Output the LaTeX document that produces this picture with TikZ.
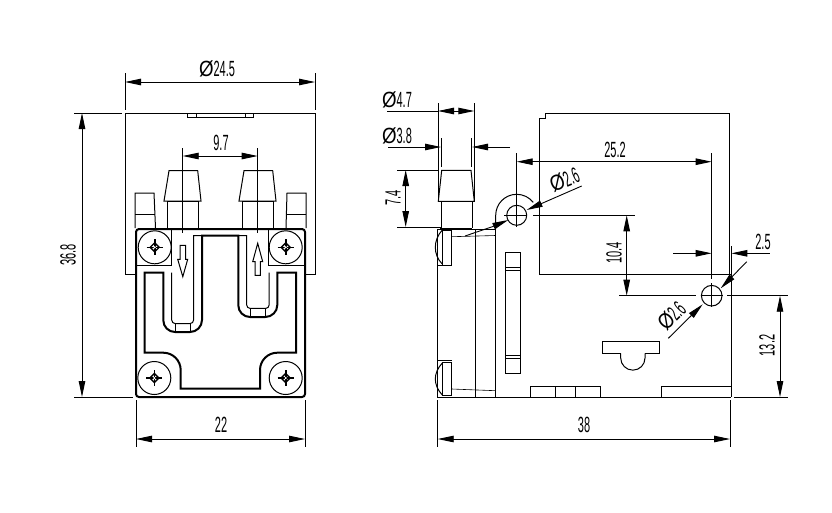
\documentclass[tikz,border=0pt]{standalone}
\usepackage{graphicx}
\usepackage{fontspec}
\setmainfont{Liberation Sans}
\usetikzlibrary{arrows.meta}
\newcommand{\dimtext}[1]{\scalebox{0.5}[1]{#1}}
\newcommand{\diatext}[1]{\scalebox{0.85}[1]{Ø}\scalebox{0.5}[1]{#1}}
\tikzset{
  part/.style={line width=1pt},
  heavy/.style={line width=2pt},
  dimtip/.style={{Triangle[length=16pt,width=6.5pt]}-{Triangle[length=16pt,width=6.5pt]}},
  dimend/.style={-{Triangle[length=16pt,width=6.5pt]}},
  extline/.style={line width=0.9pt},
  dimlabel/.style={inner sep=0pt,font=\fontsize{22}{22}\selectfont}
}
\begin{document}
\begin{tikzpicture}[x=1pt,y=1pt,yscale=-1]
  \useasboundingbox (0,0) rectangle (832,512);

  % Front view: housing behind the body
  \draw[part] (136,274) -- (125,274) -- (125,113) -- (315,113) -- (315,274) -- (305,274);
  \draw[part] (187,113) -- (187,117) -- (253,117) -- (253,113);
  \draw[part] (196,113) -- (196,117);
  \draw[part] (245,113) -- (245,117);

  % Barbs
  \foreach \bx in {0,75}{
    \draw[part] (\bx+167,228) -- (\bx+167,201) -- (\bx+198,201) -- (\bx+198,228);
    \draw[part] (\bx+164,201) -- (\bx+169,170.7) -- (\bx+197.7,170.7) -- (\bx+201,201) -- cycle;
  }

  % Side tabs
  \draw[part] (135,228) -- (135,193) -- (154,193) -- (155.5,228);
  \draw[part] (135,214) -- (155,214);
  \draw[part] (286,228) -- (287,193) -- (306,193) -- (306,228);
  \draw[part] (286,214) -- (306,214);

  % Body
  \draw[heavy,rounded corners=3pt] (136,229) rectangle (305,397);
  \draw[part] (171.7,229) -- (171.7,265) -- (136,265);
  \draw[part] (268.3,229) -- (268.3,265) -- (305,265);

  % Channel contour
  \draw[heavy] (163.3,272.7) -- (144.7,272.7) -- (144.7,352.7) -- (163.3,352.7)
    arc[start angle=-90,end angle=0,radius=17.4] -- (180.7,388.7) -- (260,388.7) -- (260,370)
    arc[start angle=180,end angle=270,radius=17.3] -- (296,352.7) -- (296,272.7) -- (277.3,272.7) -- (277.3,305)
    arc[start angle=0,end angle=90,radius=12] -- (250,317)
    arc[start angle=90,end angle=180,radius=11.7] -- (238.3,235.7) -- (202,235.7) -- (202,320)
    arc[start angle=0,end angle=90,radius=12] -- (175,332)
    arc[start angle=90,end angle=180,radius=11.7] -- cycle;
  \draw[part] (171.7,272.7) -- (171.7,320) arc[start angle=180,end angle=90,radius=3.6] -- (190,323.6)
    arc[start angle=90,end angle=0,radius=3.6] -- (193.6,235.7) -- (202,235.7);
  \draw[part] (238.3,235.7) -- (246.7,235.7) -- (246.7,305) arc[start angle=180,end angle=90,radius=3.4] -- (265.7,308.4)
    arc[start angle=90,end angle=0,radius=3.4] -- (269.1,272.7);
  \draw[part] (175.7,323.6) -- (175.7,332) (190,323.6) -- (190,332);
  \draw[part] (250.3,308.4) -- (250.3,317) (265.7,308.4) -- (265.7,317);

  % Flow arrows
  \draw[part] (180,245.3) -- (185.7,245.3) -- (185.7,259.3) -- (187.7,259.3) -- (182.8,276.7) -- (177.7,259.3) -- (180,259.3) -- cycle;
  \draw[part] (255,275.3) -- (260.3,275.3) -- (260.3,261.7) -- (262.7,261.7) -- (257.7,243.3) -- (252.7,261.7) -- (255,261.7) -- cycle;

  % Screws
  \foreach \sx/\sy in {154.7/247.3,285.7/247.3,154.3/378,285.7/378}{
    \draw[part] (\sx,\sy) circle (16.5);
    \draw[line width=1.6pt] (\sx-8,\sy) -- (\sx+8,\sy) (\sx,\sy-8) -- (\sx,\sy+8);
    \draw[line width=1.4pt] (\sx-4.5,\sy) -- (\sx,\sy-4.5) -- (\sx+4.5,\sy) -- (\sx,\sy+4.5) -- cycle;
    \fill[white] (\sx,\sy) circle (1.2);
  }

  % Front view dimensions
  \draw[extline] (125,73) -- (125,110);
  \draw[extline] (315,73) -- (315,110);
  \draw[extline,dimtip] (125,82) -- (315,82);
  \node[dimlabel] (frontdia) at (217,69) {\diatext{24.5}};
  \draw[extline] (182.7,148) -- (182.7,233);
  \draw[extline] (257.7,148) -- (257.7,233);
  \draw[extline,dimtip] (182.7,156) -- (257.7,156);
  \node[dimlabel] (frontpitch) at (221,143) {\dimtext{9.7}};
  \draw[extline] (74,113) -- (122,113);
  \draw[extline] (74,397) -- (133,397);
  \draw[extline,dimtip] (82,113) -- (82,397);
  \node[dimlabel,rotate=90] (frontheight) at (68,255) {\dimtext{36.8}};
  \draw[extline] (136,400) -- (136,447);
  \draw[extline] (305,400) -- (305,447);
  \draw[extline,dimtip] (136,439) -- (305,439);
  \node[dimlabel] (frontwidth) at (221,425) {\dimtext{22}};

  % Side view: barb
  \draw[part] (441.7,228) -- (441.7,201.3) (472.3,201.3) -- (472.3,228);
  \draw[part] (438.3,201.3) -- (441.7,170.3) -- (471,170.3) -- (474.3,201.3) -- cycle;

  % Side view: flange
  \draw[part] (437.3,229) rectangle (475.7,397);
  \draw[part] (475.7,229) -- (495.7,229) -- (495.7,397);
  \draw[line width=1.4pt] (440,228.5) -- (472,228.5);
  \draw[part] (475.7,397) -- (731,397);
  \draw[part] (442.3,230) rectangle (451.7,265);
  \draw[part] (442.3,362.3) rectangle (451.7,395);
  \draw[part] (437.3,265) -- (442.3,265);
  \draw[part] (437.3,360) -- (451.7,360);
  \draw[part] (442.3,230) .. controls (433,240) and (433,255) .. (442.3,264);
  \draw[part] (442.3,363) .. controls (433,373) and (433,385) .. (442.3,395);
  \draw[line width=0.6pt] (451.7,236.7) -- (495.7,235.5);
  \draw[line width=0.6pt] (451.7,389) -- (495.7,390.7);

  % Side view: boss and housing
  \draw[part] (495.7,229) -- (495.7,215.3) arc[start angle=180,end angle=322,radius=21];
  \draw[part] (516.7,215.3) circle (10);
  \draw[part] (539.3,274.3) -- (539.3,118.3) -- (545,118.3) -- (545,113.3) -- (729.3,113.3) -- (729.3,274.3) -- cycle;
  \draw[part] (729.3,274.3) -- (731.3,274.3) -- (731.3,397);

  % Side view: lever
  \draw[part] (505.3,252.3) rectangle (520.7,373.3);
  \draw[part] (505.3,267.3) -- (520.7,267.3) (505.3,270.7) -- (520.7,270.7);
  \draw[part] (505.3,355.3) -- (520.7,355.3) (505.3,358.7) -- (520.7,358.7);

  % Side view: bottom tabs and knob
  \draw[part] (530,397) -- (530,386) -- (600.3,386) -- (600.3,397);
  \draw[part] (555,386) -- (555,397) (575,386) -- (575,397);
  \draw[part] (661.7,397) -- (661.7,386) -- (731.3,386);
  \draw[part] (620.7,353.3) -- (602.3,353.3) -- (602.3,341.7) -- (659.3,341.7) -- (659.3,353.3) -- (645,353.3);
  \draw[part] (620.7,353.3) -- (620.7,358) arc[start angle=180,end angle=0,radius=12.15] -- (645,353.3);

  % Side view dimensions: barb
  \draw[extline] (438,103) -- (438,201);
  \draw[extline] (474.3,103) -- (474.3,201);
  \draw[extline] (387,111) -- (438,111);
  \draw[extline,dimtip] (438,111) -- (474.3,111);
  \node[dimlabel] (barbdia) at (397,100) {\diatext{4.7}};
  \draw[extline] (441.7,138) -- (441.7,167);
  \draw[extline] (471.3,138) -- (471.3,167);
  \draw[extline,dimend] (388,147) -- (441,147);
  \draw[extline,dimend] (510,147) -- (472,147);
  \node[dimlabel] (stemdia) at (397,136) {\diatext{3.8}};
  \draw[extline] (397,170) -- (438,170);
  \draw[extline] (397,227) -- (441,227);
  \draw[extline,dimtip] (405.7,170) -- (405.7,227);
  \node[dimlabel,rotate=90] (barblen) at (393,198) {\dimtext{7.4}};

  % Side view dimensions: holes
  \draw[extline] (516.7,153) -- (516.7,227);
  \draw[extline] (504,215.3) -- (527,215.3);
  \draw[extline] (533,215.3) -- (635,215.3);
  \draw[extline] (711.7,153) -- (711.7,279);
  \draw[extline] (711.7,283) -- (711.7,307);
  \draw[extline,dimtip] (516.7,161.7) -- (711.7,161.7);
  \node[dimlabel] (holespan) at (615,150) {\dimtext{25.2}};
  \draw[extline] (465,236) -- (492.3,226.7);
  \draw[extline,dimend] (492.3,226.7) -- (508.3,220);
  \draw[extline,dimend] (581.7,186) -- (526.7,210);
  \node[dimlabel,rotate=23] (upperhole) at (564.5,180) {\diatext{2.6}};
  \draw[part] (711.7,295.7) circle (10.3);
  \draw[extline] (619,295.7) -- (695.7,295.7);
  \draw[extline] (700.7,295.7) -- (722.7,295.7);
  \draw[extline] (727.3,295.7) -- (788,295.7);
  \draw[extline,dimtip] (626.7,215.3) -- (626.7,295.7);
  \node[dimlabel,rotate=90] (holerise) at (614,253) {\dimtext{10.4}};
  \draw[extline] (731.3,246) -- (731.3,274);
  \draw[extline] (673.3,253.3) -- (696,253.3);
  \draw[extline] (746.7,253.3) -- (770,253.3);
  \draw[extline,dimend] (696,253.3) -- (711.7,253.3);
  \draw[extline,dimend] (747,253.3) -- (731.3,253.3);
  \node[dimlabel] (holeoffset) at (763,241.5) {\dimtext{2.5}};
  \draw[extline,dimend] (746.7,261.7) -- (720.7,288.3);
  \draw[extline,dimend] (668.3,338.3) -- (702.7,304.3);
  \node[dimlabel,rotate=45] (lowerhole) at (671.5,316) {\diatext{2.6}};
  \draw[extline] (734,397) -- (788,397);
  \draw[extline,dimtip] (780,295.7) -- (780,397);
  \node[dimlabel,rotate=90] (holedrop) at (767,345.5) {\dimtext{13.2}};
  \draw[extline] (437.7,400) -- (437.7,447);
  \draw[extline] (730,400) -- (730,447);
  \draw[extline,dimtip] (437.7,439) -- (730,439);
  \node[dimlabel] (sidelength) at (584,425) {\dimtext{38}};
\end{tikzpicture}
\end{document}
